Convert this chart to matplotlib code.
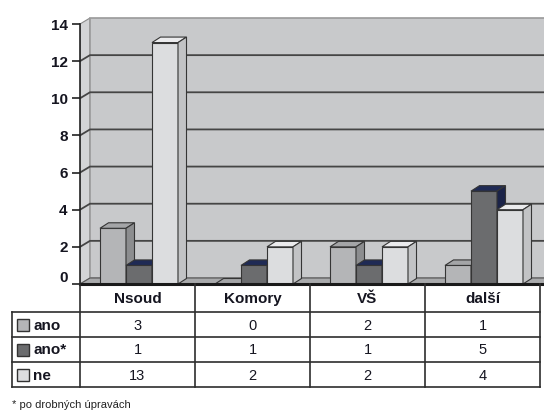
import matplotlib.pyplot as plt
from matplotlib.patches import Polygon, Rectangle
from matplotlib import font_manager
import matplotlib.transforms as mtransforms

categories = ["Nsoud", "Komory", "VŠ", "další"]
series = ["ano", "ano*", "ne"]
ano = [3, 0, 2, 1]
ano_star = [1, 1, 1, 5]
ne = [13, 2, 2, 4]
yticks = [0, 2, 4, 6, 8, 10, 12, 14]
footnote = "* po drobných úpravách"

values = [ano, ano_star, ne]
front_colors = ["#b4b5b7", "#6b6c6e", "#dcdddf"]
top_colors = ["#a4a5a7", "#1f2a55", "#ebebed"]
side_colors = ["#8c8d8f", "#1b2348", "#c2c3c5"]

names = {f.name for f in font_manager.fontManager.ttflist}
fam = ["Liberation Sans Narrow", "DejaVu Sans"] if "Liberation Sans Narrow" in names else ["Liberation Sans", "DejaVu Sans"]
plt.rcParams["font.family"] = fam
print(fam)

W, H = 544, 412
fig = plt.figure(figsize=(W / 100, H / 100), dpi=100)

# chart area: y=0 at 284px, 14 at 24px, categories 115px wide from x=80
ppu = 260 / 14
cw = 115
ax = fig.add_axes([80 / W, (H - 284) / H, (W - 80) / W, (284 - 10) / H])
xmax = (W - 80) / cw
ax.set_xlim(0, xmax)
ax.set_ylim(0, 274 / ppu)
ax.patch.set_visible(False)

dxw, dyw = 10 / cw, 6 / ppu      # wall depth
dxb, dyb = 8.5 / cw, 5.5 / ppu   # bar depth
bw = 26 / cw
offsets = [20 / cw, 46 / cw, 72 / cw]

# walls and floor
ax.add_patch(Polygon([(0, 0), (dxw, dyw), (dxw, 14 + dyw), (0, 14)], closed=True,
                     fc="#d3d4d6", ec="#8a8a8a", lw=0.8, zorder=0))
ax.add_patch(Rectangle((dxw, dyw), xmax - dxw + 0.1, 14, fc="#c8c9cb", ec="#9a9a9a", lw=1.2, zorder=0))
ax.add_patch(Polygon([(0, 0), (dxw, dyw), (xmax + 0.1, dyw), (xmax + 0.1, 0)], closed=True,
                     fc="#a9aaac", ec="#555555", lw=0.8, zorder=0.5))
for v in yticks[1:-1]:
    ax.plot([0, dxw, xmax + 0.1], [v, v + dyw, v + dyw], color="#454545", lw=1.3, zorder=1, clip_on=False)

z = 3
for i in range(len(categories)):
    for j, vals in enumerate(values):
        v = vals[i]
        left = i + offsets[j]
        ax.bar(left, v, width=bw, align="edge", color=front_colors[j], edgecolor="#353535", lw=0.8, zorder=z)
        ax.add_patch(Polygon([(left, v), (left + dxb, v + dyb), (left + bw + dxb, v + dyb), (left + bw, v)],
                             closed=True, fc=top_colors[j], ec="#353535", lw=0.8, zorder=z))
        ax.add_patch(Polygon([(left + bw, 0), (left + bw, v), (left + bw + dxb, v + dyb), (left + bw + dxb, dyb)],
                             closed=True, fc=side_colors[j], ec="#353535", lw=0.8, zorder=z))
        z += 1

ax.set_yticks(yticks)
ax.set_yticklabels([str(t) for t in yticks], fontsize=11, fontweight="bold", color="#151520")
ax.tick_params(axis="y", length=6, width=1.2, pad=3, color="#222222")
ax.set_xticks([])
for s in ["top", "right"]:
    ax.spines[s].set_visible(False)
ax.spines["left"].set_bounds(0, 14)
ax.spines["left"].set_linewidth(1.2)
ax.spines["left"].set_color("#222222")
ax.spines["left"].set_zorder(50)
ax.spines["bottom"].set_linewidth(2.2)
ax.spines["bottom"].set_color("#1a1a1a")
ax.spines["bottom"].set_zorder(50)
# lift the "0" label off the table
lab0 = ax.get_yticklabels()[0]
lab0.set_transform(lab0.get_transform() + mtransforms.ScaledTranslation(0, 7 / 100, fig.dpi_scale_trans))

# data table
tax = fig.add_axes([0, 0, 1, 1])
tax.set_xlim(0, W)
tax.set_ylim(H, 0)
tax.axis("off")
cols = [80 + cw * k for k in range(len(categories) + 1)]
rows = [284, 312, 337, 362, 387]
lc, lw = "#2e2e2e", 1.2
for y in rows[1:]:
    tax.plot([12, cols[-1]], [y, y], color=lc, lw=lw)
for x in cols:
    tax.plot([x, x], [rows[0], rows[-1]], color=lc, lw=lw)
tax.plot([12, 12], [rows[1], rows[-1]], color=lc, lw=lw)

for k, c in enumerate(categories):
    tax.text((cols[k] + cols[k + 1]) / 2, (rows[0] + rows[1]) / 2 + 1, c, ha="center", va="center",
             fontsize=11, fontweight="bold", color="#151520")
for r, (name, vals) in enumerate(zip(series, values)):
    ym = (rows[r + 1] + rows[r + 2]) / 2
    tax.add_patch(Rectangle((17, ym - 6), 12, 12, fc=front_colors[r], ec="#333333", lw=1))
    tax.text(33, ym + 1, name, ha="left", va="center", fontsize=11, fontweight="bold", color="#151520")
    for k, v in enumerate(vals):
        tax.text((cols[k] + cols[k + 1]) / 2, ym + 1, str(v), ha="center", va="center",
                 fontsize=10.5, color="#151520")

tax.text(12, 405, footnote, ha="left", va="center", fontsize=8, color="#222222")

fig.savefig("out.png", dpi=100)
